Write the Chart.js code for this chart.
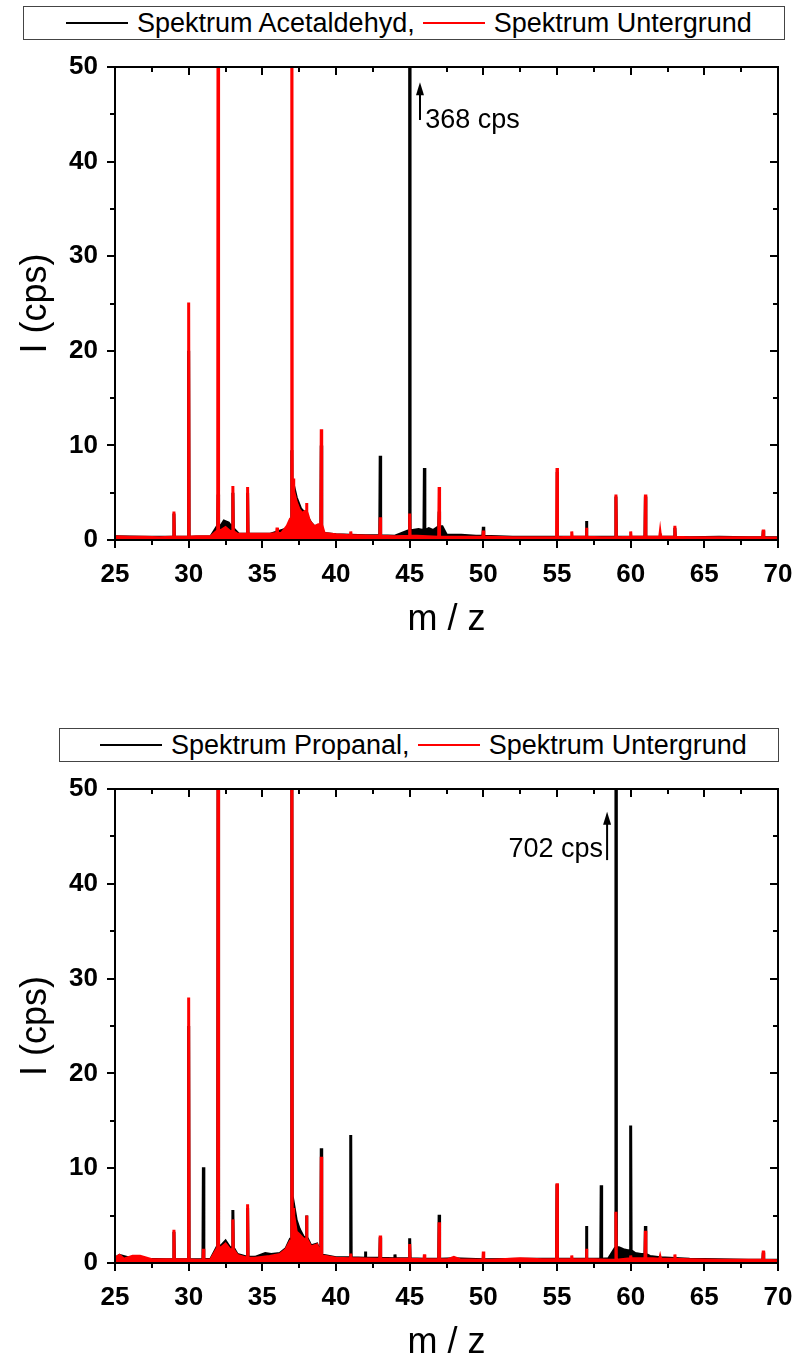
<!DOCTYPE html>
<html>
<head>
<meta charset="utf-8">
<script src="https://cdn.jsdelivr.net/npm/chart.js@4.4.1/dist/chart.umd.min.js"></script>
<style>
  body { margin: 0; background: #fff; font-family: "Liberation Sans", Arial, sans-serif; }
  #page { position: relative; width: 797px; height: 1360px; overflow: hidden; }
  canvas { position: absolute; left: 0; }
  .legend { position: absolute; box-sizing: border-box; border: 1px solid #444; background: #fff;
            display: flex; align-items: center; font-size: 27px; color: #000; white-space: nowrap; }
  .swatch { display: inline-block; width: 62px; height: 2px; margin-right: 9px; }
</style>
</head>
<body>
<div id="page">
  <div class="legend" style="left:23px; top:6px; width:762px; height:34px; padding-left:42px;">
    <span class="swatch" style="background:#000"></span><span>Spektrum Acetaldehyd,</span>
    <span class="swatch" style="background:#f00; margin-left:8px"></span><span>Spektrum Untergrund</span>
  </div>
  <canvas id="top" width="797" height="680" style="top:0"></canvas>

  <div class="legend" style="left:59px; top:728px; width:720px; height:34px; padding-left:40px;">
    <span class="swatch" style="background:#000"></span><span>Spektrum Propanal,</span>
    <span class="swatch" style="background:#f00; margin-left:8px"></span><span>Spektrum Untergrund</span>
  </div>
  <canvas id="bottom" width="797" height="680" style="top:680px"></canvas>
</div>

<script>
// axis ranges / tick values
const xTicks = [25, 30, 35, 40, 45, 50, 55, 60, 65, 70];
const yTicks = [0, 10, 20, 30, 40, 50];

// --- top panel: Acetaldehyd (black) and Untergrund (red) ---
// baseline as [m/z, I]
const acetBaseline = [[25,0.35],[27,0.3],[29.5,0.3],[31.5,0.35],[32.2,1.5],[32.4,2.0],[32.7,1.8],[33,1.2],
  [33.4,0.6],[35.5,0.6],[36.7,1.2],[36.9,2.0],[37.15,5.5],[37.3,4.5],[37.6,3.3],[37.9,2.8],[38.3,1.8],
  [38.6,1.3],[39.2,0.7],[40,0.55],[42,0.45],[44,0.4],[45.2,1.0],[45.6,1.1],[45.9,1.0],[46.3,1.2],[46.6,1.0],
  [47.2,1.4],[47.5,0.5],[48.5,0.5],[49.5,0.4],[52,0.3],[55,0.3],[58,0.3],[60,0.3],[62,0.3],[64,0.25],
  [66,0.3],[68,0.25],[70,0.25]];
// peaks as [m/z, I]
const acetPeaks = [[29,2.8],[30,20],[32,4.8],[33,5.0],[34,5.0],[37,9.5],[39,10],[43,8.9],[45,368],[46,7.6],
  [47,3.0],[50,1.4],[55,7.2],[57,2.0],[59,4.6],[61,4.6],[63,1.3],[69,1.0]];

const bgTopBaseline = [[25,0.35],[26,0.3],[27,0.3],[28,0.25],[28.8,0.3],[29.5,0.3],[30.5,0.35],[31.5,0.35],
  [32.2,1.0],[32.5,1.3],[32.8,0.9],[33.3,0.6],[34.5,0.6],[35.5,0.6],[36.3,0.7],[36.7,1.5],[36.9,2.2],
  [37.15,5.0],[37.3,4.0],[37.5,3.2],[37.7,2.8],[37.9,3.0],[38.2,2.0],[38.5,1.4],[38.8,1.6],[39.2,0.7],
  [40,0.55],[41.5,0.45],[42.5,0.4],[44,0.35],[45.5,0.4],[47.5,0.3],[49,0.3],[50.5,0.3],[52,0.25],[54,0.25],
  [56.5,0.3],[58,0.25],[60.5,0.3],[62.5,0.3],[64,0.25],[66,0.25],[68,0.25],[70,0.2]];
const bgTopPeaks = [[29,3.0],[30,25.1],[32,80],[33,5.7],[34,5.6],[36,1.3],[37,80],[37.1,6.5],[38,3.9],
  [39,11.7],[41,0.9],[43,2.4],[45,2.8],[47,5.6],[50,1.0],[55,7.6],[56,0.9],[57,1.3],[59,4.8],[60,0.9],
  [61,4.8],[62,0.7],[63,1.5],[69,1.1]];

// --- bottom panel: Propanal (black) and Untergrund (red) ---
const propBaseline = [[25,0.5],[25.3,0.8],[26,0.5],[27,0.4],[28.5,0.35],[29.5,0.35],[30.5,0.35],[31.5,0.4],
  [32.2,1.8],[32.5,2.3],[32.8,1.6],[33.3,0.9],[34.5,0.6],[35.2,1.0],[35.6,0.9],[36.2,1.0],[36.6,1.5],
  [36.9,2.5],[37.15,5.9],[37.3,4.5],[37.5,3.6],[37.8,2.7],[38.3,1.8],[38.7,2.0],[39.2,0.8],[40,0.55],
  [42,0.5],[44,0.45],[46,0.4],[48,0.45],[50,0.35],[53,0.4],[56,0.4],[57.5,0.4],[58.5,0.45],[59.2,1.6],
  [59.5,1.4],[59.8,1.3],[60.3,1.0],[60.7,0.9],[61.3,0.7],[62,0.55],[64,0.4],[66,0.35],[68,0.3],[70,0.3]];
const propPeaks = [[29,3.3],[30,25],[31,10.1],[32,60],[33,5.6],[34,5.8],[37,60],[38,5.0],[39,12.1],
  [41,13.5],[42,1.2],[43,2.7],[44,0.9],[45,2.6],[47,5.1],[55,8.3],[57,3.9],[58,8.2],[59,702],[60,14.5],
  [61,3.9],[69,1.1]];

const bgBotBaseline = [[25,0.5],[25.3,0.8],[25.6,0.4],[26.2,0.7],[26.7,0.7],[27.5,0.35],[28.5,0.35],
  [29.5,0.35],[30.5,0.3],[31.5,0.35],[32.2,1.6],[32.5,2.0],[32.8,1.4],[33.3,0.8],[34.5,0.5],[35.5,0.7],
  [36.2,0.9],[36.6,1.4],[36.9,2.3],[37.15,4.8],[37.3,3.3],[37.5,3.0],[37.8,2.5],[38.3,1.7],[38.7,1.9],
  [39.2,0.7],[40,0.5],[41.5,0.45],[43.5,0.4],[44.5,0.4],[46.5,0.35],[47.6,0.35],[48,0.6],[48.4,0.35],
  [50.5,0.3],[52.5,0.45],[54,0.35],[57.5,0.35],[58.5,0.3],[60.5,0.45],[61.5,0.45],[62.3,0.4],[64,0.35],
  [66,0.3],[68,0.3],[70,0.25]];
const bgBotPeaks = [[29,3.5],[30,28],[31,1.5],[32,80],[33,4.6],[34,6.2],[37,80],[37.1,5.8],[38,5.0],
  [39,11.2],[41,1.0],[43,2.9],[45,2.0],[46,0.9],[47,4.3],[50,1.2],[55,8.4],[56,0.8],[57,1.5],
  [59,5.4],[60,0.8],[61,3.4],[62,0.6],[63,0.9],[69,1.3]];

const FONT = '"Liberation Sans", Arial, sans-serif';
const SPIKE = 0.03; // half width of a peak in m/z

// foot of a peak = value of the closest baseline point
function footAt(baseline, mz) {
  let best = baseline[0];
  baseline.forEach(function(p) {
    if (Math.abs(p[0] - mz) < Math.abs(best[0] - mz)) best = p;
  });
  return best[1];
}

function buildSpectrum(baseline, peaks) {
  const pts = baseline.map(function(p) { return { x: p[0], y: p[1] }; });
  peaks.forEach(function(p) {
    const foot = footAt(baseline, p[0]);
    pts.push({ x: p[0] - SPIKE, y: foot });
    pts.push({ x: p[0], y: p[1] });
    pts.push({ x: p[0] + SPIKE, y: foot });
  });
  return pts.sort(function(a, b) { return a.x - b.x; });
}

// frame with ticks on all four sides (out on bottom/left, in on top/right)
const frameTicks = {
  id: 'frameTicks',
  afterDatasetsDraw: function(chart) {
    const ctx = chart.ctx;
    const a = chart.chartArea;
    const xs = chart.scales.x, ys = chart.scales.y;
    ctx.save();
    ctx.strokeStyle = '#000';
    ctx.lineWidth = 2;
    ctx.beginPath();
    for (let v = xs.min; v <= xs.max; v += 2.5) {
      const px = Math.round(xs.getPixelForValue(v));
      const len = v % 5 === 0 ? 8 : 5;
      ctx.moveTo(px, a.bottom); ctx.lineTo(px, a.bottom + len);
      ctx.moveTo(px, a.top); ctx.lineTo(px, a.top + len);
    }
    for (let v = ys.min; v <= ys.max; v += 5) {
      const py = Math.round(ys.getPixelForValue(v));
      const len = v % 10 === 0 ? 8 : 5;
      ctx.moveTo(a.left, py); ctx.lineTo(a.left - len, py);
      ctx.moveTo(a.right, py); ctx.lineTo(a.right - len, py);
    }
    ctx.stroke();
    ctx.strokeRect(a.left, a.top, a.right - a.left, a.bottom - a.top);
    ctx.restore();
  }
};

// arrow + "xxx cps" for the clipped peak
const cpsNote = {
  id: 'cpsNote',
  afterDraw: function(chart, args, opts) {
    if (!opts || !opts.text) return;
    const ctx = chart.ctx;
    const xs = chart.scales.x, ys = chart.scales.y;
    const ax = xs.getPixelForValue(opts.arrowX);
    const y0 = ys.getPixelForValue(opts.arrowFrom);
    const y1 = ys.getPixelForValue(opts.arrowTo);
    ctx.save();
    ctx.strokeStyle = '#000';
    ctx.fillStyle = '#000';
    ctx.lineWidth = 2;
    ctx.beginPath();
    ctx.moveTo(ax, y0); ctx.lineTo(ax, y1 + 10);
    ctx.stroke();
    ctx.beginPath();
    ctx.moveTo(ax, y1); ctx.lineTo(ax - 4, y1 + 13); ctx.lineTo(ax + 4, y1 + 13);
    ctx.closePath();
    ctx.fill();
    ctx.font = '27px ' + FONT;
    ctx.textAlign = opts.align;
    ctx.textBaseline = 'alphabetic';
    ctx.fillText(opts.text, xs.getPixelForValue(opts.textX), ys.getPixelForValue(opts.textY));
    ctx.restore();
  }
};

function makeChart(canvas, black, red, padTop, xHeight, titlePad, note) {
  return new Chart(canvas, {
    type: 'line',
    data: {
      datasets: [
        { data: red, borderColor: '#ff0000', backgroundColor: '#ff0000', fill: 'origin' },
        { data: black, borderColor: '#000000', backgroundColor: '#000000', fill: 'origin' }
      ]
    },
    options: {
      responsive: false,
      animation: false,
      layout: { padding: { top: padTop, right: 19, left: 0, bottom: 0 } },
      elements: { point: { radius: 0 }, line: { tension: 0, borderWidth: 3 } },
      plugins: { legend: { display: false }, tooltip: { enabled: false }, cpsNote: note },
      scales: {
        x: {
          type: 'linear', min: 25, max: 70,
          grid: { display: false, drawTicks: false }, border: { display: false },
          afterBuildTicks: function(s) { s.ticks = xTicks.map(function(v) { return { value: v }; }); },
          ticks: { padding: 19, color: '#000', maxRotation: 0, autoSkip: false,
                   font: { family: FONT, size: 26, weight: 'bold' } },
          title: { display: true, text: 'm / z', color: '#000',
                   font: { family: FONT, size: 36, lineHeight: 1 }, padding: { top: 0, bottom: titlePad } },
          afterFit: function(s) { s.height = xHeight; s.paddingLeft = 0; s.paddingRight = 0; }
        },
        y: {
          min: 0, max: 50,
          grid: { display: false, drawTicks: false }, border: { display: false },
          afterBuildTicks: function(s) { s.ticks = yTicks.map(function(v) { return { value: v }; }); },
          ticks: { padding: 17, color: '#000', font: { family: FONT, size: 26, weight: 'bold' } },
          title: { display: true, text: 'I (cps)', color: '#000',
                   font: { family: FONT, size: 36, lineHeight: 1 }, padding: { top: 18, bottom: 0 } },
          afterFit: function(s) { s.width = 115; s.paddingTop = 0; s.paddingBottom = 0; }
        }
      }
    },
    plugins: [frameTicks, cpsNote]
  });
}

makeChart(document.getElementById('top'),
  buildSpectrum(acetBaseline, acetPeaks), buildSpectrum(bgTopBaseline, bgTopPeaks),
  67, 140, 42,
  { text: '368 cps', align: 'left', arrowX: 45.7, arrowFrom: 44.4, arrowTo: 48.4, textX: 46.05, textY: 43.6 });

makeChart(document.getElementById('bottom'),
  buildSpectrum(propBaseline, propPeaks), buildSpectrum(bgBotBaseline, bgBotPeaks),
  109, 97, -1,
  { text: '702 cps', align: 'right', arrowX: 58.4, arrowFrom: 42.5, arrowTo: 47.6, textX: 58.13, textY: 42.8 });
</script>
</body>
</html>
